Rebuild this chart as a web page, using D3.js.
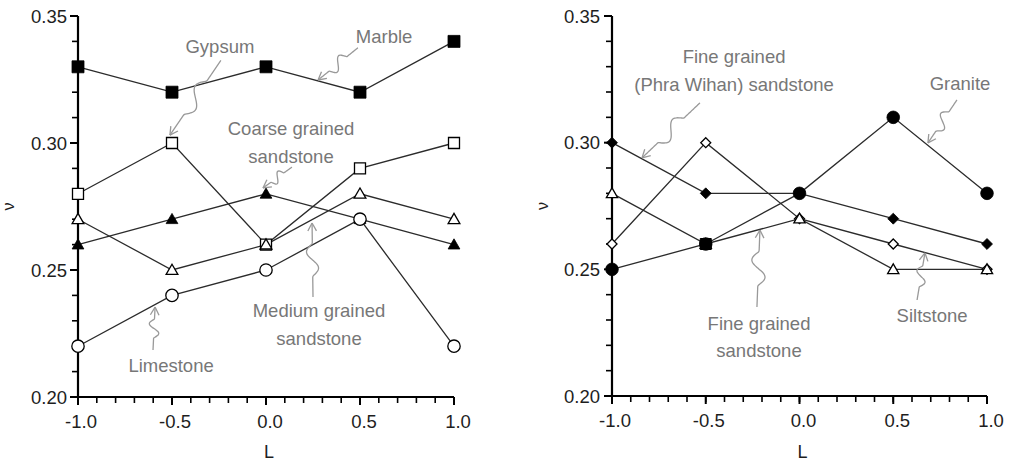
<!DOCTYPE html>
<html>
<head>
<meta charset="utf-8">
<script src="https://cdn.jsdelivr.net/npm/d3@7"></script>
<style>
  body { margin: 0; background: #fff; }
  text { font-family: "Liberation Sans", Arial, sans-serif; }
</style>
</head>
<body>
<svg id="chart" width="1009" height="464"></svg>
<script>
// L values shared by both panels
const loadL = [-1.0, -0.5, 0.0, 0.5, 1.0];
const xTicks = [-1.0, -0.5, 0.0, 0.5, 1.0];
const yTicks = [0.20, 0.25, 0.30, 0.35];

// left panel series (Poisson's ratio)
const marble = [0.33, 0.32, 0.33, 0.32, 0.34];
const gypsum = [0.28, 0.30, 0.26, 0.29, 0.30];
const coarseSandstone = [0.26, 0.27, 0.28, 0.27, 0.26];
const mediumSandstone = [0.27, 0.25, 0.26, 0.28, 0.27];
const limestone = [0.22, 0.24, 0.25, 0.27, 0.22];

// right panel series
const phraWihan = [0.30, 0.28, 0.28, 0.27, 0.26];
const siltstone = [0.26, 0.30, 0.27, 0.26, 0.25];
const granite = [0.25, 0.26, 0.28, 0.31, 0.28];
const fineSandstone = [0.28, 0.26, 0.27, 0.25, 0.25];
const squareOverlay = [{ L: -0.5, v: 0.26 }];

// annotations: label lines + arrow start/tip, all in data units
const leftNotes = [
  { lines: ['Gypsum'], L: -0.245, v: [0.3354], from: [-0.24, 0.3325], to: [-0.511, 0.3031], amp: 7 },
  { lines: ['Marble'], L: 0.628, v: [0.3394], from: [0.489, 0.3375], to: [0.277, 0.3248], amp: 6 },
  { lines: ['Coarse grained', 'sandstone'], L: 0.133, v: [0.3032, 0.2921], from: [0.138, 0.2905], to: [-0.016, 0.2823], amp: 5 },
  { lines: ['Medium grained', 'sandstone'], L: 0.282, v: [0.2315, 0.2205], from: [0.25, 0.2394], to: [0.245, 0.2685], amp: 6 },
  { lines: ['Limestone'], L: -0.505, v: [0.2098], from: [-0.601, 0.2185], to: [-0.59, 0.2354], amp: 5 }
];
const rightNotes = [
  { lines: ['Fine grained', '(Phra Wihan) sandstone'], L: -0.349, v: [0.3315, 0.3205], from: [-0.531, 0.3157], to: [-0.84, 0.294], amp: 7 },
  { lines: ['Granite'], L: 0.856, v: [0.3208], from: [0.84, 0.3169], to: [0.685, 0.2999], amp: 6 },
  { lines: ['Fine grained', 'sandstone'], L: -0.216, v: [0.2261, 0.2154], from: [-0.227, 0.2351], to: [-0.211, 0.2655], amp: 7 },
  { lines: ['Siltstone'], L: 0.707, v: [0.2292], from: [0.627, 0.2379], to: [0.669, 0.2565], amp: 5 }
];

const svg = d3.select('#chart');
const LINE = '#2b2b2b', NOTE = '#777';

// rotated-square marker
const diamond = {
  draw(ctx, size) {
    const r = Math.sqrt(size / 2);
    ctx.moveTo(0, -r); ctx.lineTo(r, 0); ctx.lineTo(0, r); ctx.lineTo(-r, 0); ctx.closePath();
  }
};

function drawPanel(cfg) {
  const x = d3.scaleLinear().domain([-1, 1]).range([cfg.x0, cfg.x1]);
  const y = d3.scaleLinear().domain([0.20, 0.35]).range([cfg.yb, 16]);
  const g = svg.append('g');

  // minor ticks
  g.selectAll('.xminor').data(d3.range(-10, 11).map(d => d / 10)).enter().append('line')
    .attr('x1', d => x(d)).attr('x2', d => x(d))
    .attr('y1', cfg.yb).attr('y2', cfg.yb + 6)
    .attr('stroke', '#000').attr('stroke-width', 1.6);
  g.selectAll('.yminor').data(d3.range(20, 36).map(d => d / 100)).enter().append('line')
    .attr('x1', cfg.x0 - 6).attr('x2', cfg.x0)
    .attr('y1', d => y(d)).attr('y2', d => y(d))
    .attr('stroke', '#000').attr('stroke-width', 1.6);

  // major ticks
  g.selectAll('.xmajor').data(xTicks).enter().append('line')
    .attr('x1', d => x(d)).attr('x2', d => x(d))
    .attr('y1', cfg.yb).attr('y2', cfg.yb + 8)
    .attr('stroke', '#000').attr('stroke-width', 2);
  g.selectAll('.ymajor').data(yTicks).enter().append('line')
    .attr('x1', cfg.x0 - 8).attr('x2', cfg.x0)
    .attr('y1', d => y(d)).attr('y2', d => y(d))
    .attr('stroke', '#000').attr('stroke-width', 2);

  // axis lines
  g.append('line').attr('x1', cfg.x0).attr('x2', cfg.x1).attr('y1', cfg.yb).attr('y2', cfg.yb)
    .attr('stroke', '#000').attr('stroke-width', 2.2);
  g.append('line').attr('x1', cfg.x0).attr('x2', cfg.x0).attr('y1', y(0.35)).attr('y2', cfg.yb + 1)
    .attr('stroke', '#000').attr('stroke-width', 2.2);

  // tick labels
  g.selectAll('.xlab').data(xTicks).enter().append('text')
    .attr('x', d => x(d) + (d < 0 ? 3 : 4)).attr('y', cfg.yb + 31)
    .attr('text-anchor', 'middle').attr('font-size', 18.5).attr('fill', '#1e1e1e')
    .text(d => d3.format('.1f')(d).replace('−', '-'));
  g.selectAll('.ylab').data(yTicks).enter().append('text')
    .attr('x', cfg.x0 - cfg.ylabGap).attr('y', d => y(d) + 6.5)
    .attr('text-anchor', 'end').attr('font-size', 18.5).attr('fill', '#1e1e1e')
    .text(d => d3.format('.2f')(d));

  // axis titles
  g.append('text').attr('x', (cfg.x0 + cfg.x1) / 2 + 3).attr('y', 458)
    .attr('text-anchor', 'middle').attr('font-size', 18).attr('fill', '#1e1e1e').text('L');
  g.append('text')
    .attr('transform', `translate(${cfg.x0 - cfg.vlabGap},${y(0.275)}) rotate(-90)`)
    .attr('text-anchor', 'middle').attr('font-size', 16).attr('fill', '#1e1e1e').text('ν');

  // series lines and markers
  const line = d3.line().x((d, i) => x(loadL[i])).y(d => y(d));
  cfg.series.forEach(s => {
    g.append('path').datum(s.values).attr('d', line)
      .attr('fill', 'none').attr('stroke', LINE).attr('stroke-width', 1.3);
  });
  cfg.series.forEach(s => {
    g.selectAll(null).data(s.values).enter().append('path')
      .attr('transform', (d, i) => `translate(${x(loadL[i])},${y(d) + (s.dy || 0)})`)
      .attr('d', d3.symbol().type(s.type).size(s.size))
      .attr('fill', s.filled ? '#000' : '#fff')
      .attr('stroke', '#000').attr('stroke-width', s.filled ? 0.8 : 1.3);
  });
  (cfg.extra || []).forEach(e => {
    g.selectAll(null).data(e.points).enter().append('path')
      .attr('transform', d => `translate(${x(d.L)},${y(d.v)})`)
      .attr('d', d3.symbol().type(e.type).size(e.size))
      .attr('fill', '#000').attr('stroke', '#000');
  });

  // annotations with squiggly arrows
  cfg.notes.forEach(n => {
    n.lines.forEach((t, i) => {
      g.append('text').attr('x', x(n.L)).attr('y', y(n.v[i]))
        .attr('text-anchor', 'middle').attr('font-size', 18.5).attr('fill', NOTE).text(t);
    });
    const sx = x(n.from[0]), sy = y(n.from[1]), tx = x(n.to[0]), ty = y(n.to[1]);
    const dx = tx - sx, dy = ty - sy, len = Math.hypot(dx, dy);
    const ux = dx / len, uy = dy / len, px = -uy, py = ux;
    const pts = d3.range(0, 1.0001, 0.02).map(t => {
      let off = 0;
      if (t > 0.28 && t < 0.72) off = n.amp * Math.sin((t - 0.28) / 0.44 * 2 * Math.PI);
      return [sx + dx * t + px * off, sy + dy * t + py * off];
    });
    g.append('path').attr('d', d3.line().curve(d3.curveBasis)(pts))
      .attr('fill', 'none').attr('stroke', '#999').attr('stroke-width', 1.3);
    const ang = Math.atan2(dy, dx);
    [0.5, -0.5].forEach(a => {
      g.append('line').attr('x1', tx).attr('y1', ty)
        .attr('x2', tx - 9 * Math.cos(ang + a)).attr('y2', ty - 9 * Math.sin(ang + a))
        .attr('stroke', '#999').attr('stroke-width', 1.3);
    });
  });
}

drawPanel({
  x0: 78, x1: 454, yb: 397, ylabGap: 11, vlabGap: 64,
  series: [
    { values: marble, type: d3.symbolSquare, size: 144, filled: true },
    { values: gypsum, type: d3.symbolSquare, size: 121, filled: false },
    { values: coarseSandstone, type: d3.symbolTriangle, size: 60, filled: true, dy: 1 },
    { values: mediumSandstone, type: d3.symbolTriangle, size: 60, filled: false, dy: 1 },
    { values: limestone, type: d3.symbolCircle, size: 120, filled: false }
  ],
  notes: leftNotes
});

drawPanel({
  x0: 612, x1: 987, yb: 396, ylabGap: 12, vlabGap: 64,
  series: [
    { values: phraWihan, type: diamond, size: 60, filled: true },
    { values: siltstone, type: diamond, size: 50, filled: false },
    { values: granite, type: d3.symbolCircle, size: 125, filled: true },
    { values: fineSandstone, type: d3.symbolTriangle, size: 55, filled: false, dy: 1 }
  ],
  extra: [{ points: squareOverlay, type: d3.symbolSquare, size: 121 }],
  notes: rightNotes
});
</script>
</body>
</html>
